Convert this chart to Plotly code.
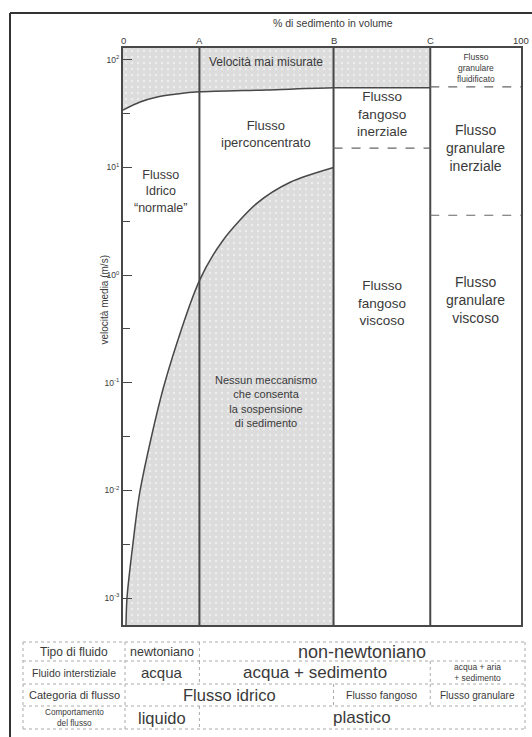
import plotly.graph_objects as go

# Boundaries on the sediment-volume axis (%)
bound_names = ["0", "A", "B", "C", "100"]
bound_vals = [0, 19.2, 52.9, 77.2, 100]
A, B, C = bound_vals[1], bound_vals[2], bound_vals[3]

# Velocity axis (log10 m/s)
y_log_range = [-3.25, 2.11]
decades = [-3, -2, -1, 0, 1, 2]

# Upper limit of measured velocities (% sediment, m/s)
upper_x = [0, 4.3, 8.6, 13.6, 19.2, 36.0, 52.9, 65.0, 77.2]
upper_v = [34.2, 40.6, 45.2, 48.2, 50.4, 52.5, 55.0, 55.0, 55.0]

# Lower limit: no mechanism keeping sediment in suspension (% sediment, m/s)
lower_x = [0.75, 1.0, 2.5, 4.3, 10.5, 19.2, 25.1, 33.7, 42.0, 52.9]
lower_v = [0.00056, 0.001, 0.0032, 0.01, 0.1, 0.89, 2.1, 4.67, 7.3, 10.0]

# Dashed sub-boundaries inside the B-C and C-100 columns (m/s)
dash_bc_v = 15.1
dash_c100_v = [56.0, 3.6]

# Classification table below the chart
row_labels = ["Tipo di fluido", "Fluido interstiziale", "Categoria di flusso",
              "Comportamento<br>del flusso"]
row_cells = [
    [("newtoniano", "0", "A"), ("non-newtoniano", "A", "100")],
    [("acqua", "0", "A"), ("acqua + sedimento", "A", "C"),
     ("acqua + aria<br>+ sedimento", "C", "100")],
    [("Flusso idrico", "0", "B"), ("Flusso fangoso", "B", "C"),
     ("Flusso granulare", "C", "100")],
    [("liquido", "0", "A"), ("plastico", "A", "100")],
]
cell_font = {
    "newtoniano": 12.5, "non-newtoniano": 18, "acqua": 15,
    "acqua + sedimento": 17, "acqua + aria<br>+ sedimento": 8.5,
    "Flusso idrico": 16.5, "Flusso fangoso": 10.5, "Flusso granulare": 10,
    "liquido": 16.5, "plastico": 17,
}
label_font = [12, 10.5, 11, 8.2]

W, H = 532, 737
FONT = "Liberation Sans, Arial, sans-serif"
INK = "#3a3a3a"
LINE = "#484848"
GRAY = "#dcdcdc"


def px(x):
    return x / W


def py(y):
    return 1 - y / H


X0, X1 = 123, 521   # plot area, pixels
Y0, Y1 = 48, 625

ytop = 10 ** y_log_range[1]
ybot = 10 ** y_log_range[0]

pattern = dict(shape=".", bgcolor=GRAY, fgcolor="white", size=6, solidity=0.12)

fig = go.Figure()

# shaded zone above the measured-velocity limit
fig.add_trace(go.Scatter(x=[0, C], y=[ytop, ytop], mode="lines",
                         line=dict(width=0), hoverinfo="skip", showlegend=False))
fig.add_trace(go.Scatter(x=upper_x, y=upper_v, mode="lines", fill="tonexty",
                         fillcolor=GRAY, fillpattern=pattern,
                         line=dict(color=LINE, width=1.5, shape="spline", smoothing=0.8),
                         hoverinfo="skip", showlegend=False))

# shaded zone below the suspension limit
fig.add_trace(go.Scatter(x=[lower_x[0], B], y=[ybot, ybot], mode="lines",
                         line=dict(width=0), hoverinfo="skip", showlegend=False))
fig.add_trace(go.Scatter(x=lower_x, y=lower_v, mode="lines", fill="tonexty",
                         fillcolor=GRAY, fillpattern=pattern,
                         line=dict(color=LINE, width=1.5, shape="spline", smoothing=0.8),
                         hoverinfo="skip", showlegend=False))

shapes = []
# column dividers A, B, C
for v in (A, B, C):
    shapes.append(dict(type="line", xref="x", yref="y domain", x0=v, x1=v, y0=0, y1=1,
                       line=dict(color=LINE, width=2)))
# dashed sub-boundaries
shapes.append(dict(type="line", xref="x", yref="y", x0=B, x1=C, y0=dash_bc_v, y1=dash_bc_v,
                   line=dict(color="#666", width=1.2, dash="dash")))
for v in dash_c100_v:
    shapes.append(dict(type="line", xref="x", yref="y", x0=C, x1=100, y0=v, y1=v,
                       line=dict(color="#666", width=1.2, dash="dash")))

# outer frame
shapes.append(dict(type="line", xref="paper", yref="paper", x0=px(10), x1=1.0,
                   y0=py(13), y1=py(13), line=dict(color="#333", width=2)))
shapes.append(dict(type="line", xref="paper", yref="paper", x0=px(10), x1=px(10),
                   y0=py(13), y1=0, line=dict(color="#333", width=2)))

annotations = []


def txt(x, y, s, size, xref="x", color=INK):
    annotations.append(dict(x=x, y=py(y), xref=xref, yref="paper", text=s, showarrow=False,
                            font=dict(family=FONT, size=size, color=color),
                            xanchor="center", yanchor="middle", align="center"))


# boundary labels along the top edge
for v, name in zip(bound_vals, bound_names):
    txt(v, 41, name, 9.5)

txt((A + B) / 2, 62, "Velocità mai misurate", 12)
txt((A + B) / 2, 134, "Flusso<br>iperconcentrato", 13)
txt(A / 2, 192, "Flusso<br>Idrico<br>\u201cnormale\u201d", 12.5)
txt((B + C) / 2, 114, "Flusso<br>fangoso<br>inerziale", 13.5)
txt((C + 100) / 2, 68, "Flusso<br>granulare<br>fluidificato", 8.5)
txt((C + 100) / 2, 148, "Flusso<br>granulare<br>inerziale", 14)
txt((B + C) / 2, 303, "Flusso<br>fangoso<br>viscoso", 13.5)
txt((C + 100) / 2, 300, "Flusso<br>granulare<br>viscoso", 14)
txt((A + B) / 2, 401, "Nessun meccanismo<br>che consenta<br>la sospensione<br>di sedimento", 11)

# axis titles
annotations.append(dict(x=px(333), y=py(23), xref="paper", yref="paper",
                        text="% di sedimento in volume", showarrow=False,
                        xanchor="center", yanchor="middle",
                        font=dict(family=FONT, size=10.5, color=INK)))
annotations.append(dict(x=px(97), y=py(300), xref="paper", yref="paper",
                        text="velocità media (m/s)", showarrow=False, textangle=-90,
                        font=dict(family=FONT, size=10, color=INK)))

# table
row_edges = [642, 661, 684, 706, 729]
TL, TC, TR = 23, 125, 525
col_px = {"0": TC, "A": X0 + (X1 - X0) * A / 100, "B": X0 + (X1 - X0) * B / 100,
          "C": X0 + (X1 - X0) * C / 100, "100": TR}
bcol = "#aaaaaa"
for yy in row_edges:
    shapes.append(dict(type="line", xref="paper", yref="paper", x0=px(TL), x1=px(TR),
                       y0=py(yy), y1=py(yy), line=dict(color=bcol, width=1, dash="dot")))
for xx in (TL, TC, TR):
    shapes.append(dict(type="line", xref="paper", yref="paper", x0=px(xx), x1=px(xx),
                       y0=py(row_edges[0]), y1=py(row_edges[-1]),
                       line=dict(color=bcol, width=1, dash="dot")))
for i, (lab, cells) in enumerate(zip(row_labels, row_cells)):
    ya, yb = row_edges[i], row_edges[i + 1]
    ym = (ya + yb) / 2
    txt(px((TL + TC) / 2), ym, lab, label_font[i], xref="paper")
    for j, (s, c0, c1) in enumerate(cells):
        xa, xb = col_px[c0], col_px[c1]
        if j > 0:
            shapes.append(dict(type="line", xref="paper", yref="paper", x0=px(xa), x1=px(xa),
                               y0=py(ya), y1=py(yb), line=dict(color=bcol, width=1, dash="dot")))
        txt(px((xa + xb) / 2), ym, s, cell_font[s], xref="paper")

minor_vals = [10 ** (d + 0.5) for d in decades[:-1]]

fig.update_layout(
    width=W, height=H, margin=dict(l=0, r=0, t=0, b=0),
    paper_bgcolor="white", plot_bgcolor="white",
    font=dict(family=FONT, color=INK),
    showlegend=False,
    shapes=shapes, annotations=annotations,
    xaxis=dict(domain=[px(X0), px(X1)], range=[0, 100], side="top",
               showticklabels=False, ticks="", showgrid=False, zeroline=False,
               showline=True, mirror=True, linecolor=LINE, linewidth=2),
    yaxis=dict(domain=[py(Y1), py(Y0)], type="log", range=y_log_range,
               tickmode="array", tickvals=[10 ** d for d in decades],
               ticktext=[f"10<sup>{d}</sup>" for d in decades],
               ticks="inside", ticklen=9, tickwidth=1.2, tickcolor=LINE,
               minor=dict(tickmode="array", tickvals=minor_vals, ticks="inside",
                          ticklen=7, tickwidth=1.2, tickcolor=LINE, showgrid=False),
               showgrid=False, zeroline=False,
               showline=True, mirror=True, linecolor=LINE, linewidth=2,
               tickfont=dict(family=FONT, size=8.5, color=INK)),
)

fig.write_html("out.html")
